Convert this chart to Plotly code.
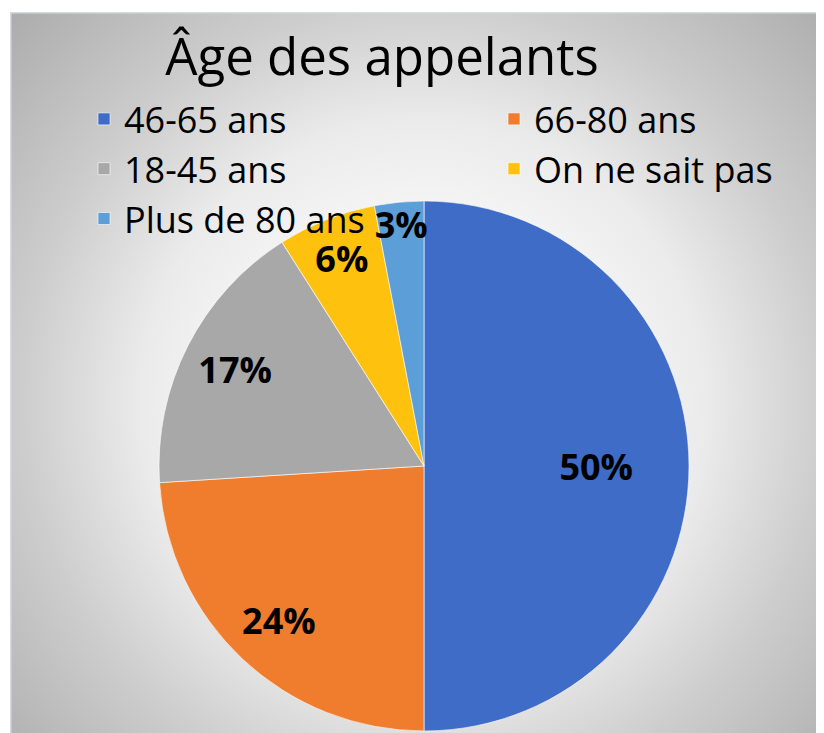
import base64
import plotly.graph_objects as go

# tranches d'âge des appelants (en %)
labels = ["46-65 ans", "66-80 ans", "18-45 ans", "On ne sait pas", "Plus de 80 ans"]
values = [50, 24, 17, 6, 3]
colors = ["#3F6CC6", "#F07D2E", "#A8A8A8", "#FEC10E", "#5C9ED8"]

W, H = 824, 733
FONT = "Open Sans, Noto Sans, sans-serif"
LBL = "<b>%{percent:.0%}</b>"

# fond en dégradé radial (blanc au centre, gris sur les bords)
svg = """<svg xmlns='http://www.w3.org/2000/svg' width='822' height='729'>
<defs><radialGradient id='g' gradientUnits='userSpaceOnUse' cx='414' cy='390' r='600'>
<stop offset='0' stop-color='#ffffff'/>
<stop offset='0.3' stop-color='#f6f6f6'/>
<stop offset='0.47' stop-color='#ebebeb'/>
<stop offset='0.67' stop-color='#cdcdcd'/>
<stop offset='0.97' stop-color='#a9a9a9'/>
</radialGradient></defs>
<rect x='0.75' y='0.75' width='830' height='740' fill='url(#g)' stroke='#d6dae0' stroke-width='1.5'/>
</svg>"""
bg = "data:image/svg+xml;base64," + base64.b64encode(svg.encode()).decode()

dom = dict(x=[151 / W, 681 / W], y=[1 - 723 / H, 1 - 193 / H])
txt = dict(family=FONT, size=36, color="black")

fig = go.Figure()
# camembert principal (couleurs + légende + petites parts)
fig.add_trace(go.Pie(
    labels=labels, values=values, sort=False, direction="clockwise", rotation=0,
    marker=dict(colors=colors, line=dict(color="rgba(255,255,255,0.6)", width=1)),
    texttemplate=["", "", "", LBL, LBL],
    textposition="inside", insidetextorientation="horizontal",
    textfont=txt, hoverinfo="label+percent", domain=dom,
))
# calques transparents pour placer les étiquettes plus vers l'extérieur
fig.add_trace(go.Pie(
    labels=labels, values=values, sort=False, direction="clockwise", rotation=0,
    hole=0.3, marker=dict(colors=["rgba(0,0,0,0)"] * 5, line=dict(width=0)),
    texttemplate=[LBL, "", "", "", ""],
    textposition="inside", insidetextorientation="horizontal",
    textfont=txt, hoverinfo="skip", showlegend=False, domain=dom,
))
fig.add_trace(go.Pie(
    labels=labels, values=values, sort=False, direction="clockwise", rotation=0,
    hole=0.6, marker=dict(colors=["rgba(0,0,0,0)"] * 5, line=dict(width=0)),
    texttemplate=["", LBL, LBL, "", ""],
    textposition="inside", insidetextorientation="horizontal",
    textfont=txt, hoverinfo="skip", showlegend=False, domain=dom,
))

fig.update_layout(
    width=W, height=H,
    margin=dict(l=0, r=0, t=0, b=0, autoexpand=False),
    paper_bgcolor="white",
    uniformtext=dict(minsize=36, mode="show"),
    title=dict(text="Âge des appelants", x=374 / W, xanchor="center",
               y=1 - 49 / H, yanchor="middle",
               font=dict(family=FONT, size=51, color="black")),
    legend=dict(orientation="h", traceorder="normal",
                x=0, xanchor="left", y=1 - 81 / H, yanchor="top",
                indentation=76, entrywidth=289, entrywidthmode="pixels",
                font=dict(family=FONT, size=36, color="black"),
                bgcolor="rgba(0,0,0,0)"),
    images=[dict(source=bg, xref="paper", yref="paper", x=2 / W, y=1 - 4 / H,
                 sizex=822 / W, sizey=729 / H, xanchor="left", yanchor="top",
                 sizing="stretch", layer="below")],
)

fig.write_html("out.html")
